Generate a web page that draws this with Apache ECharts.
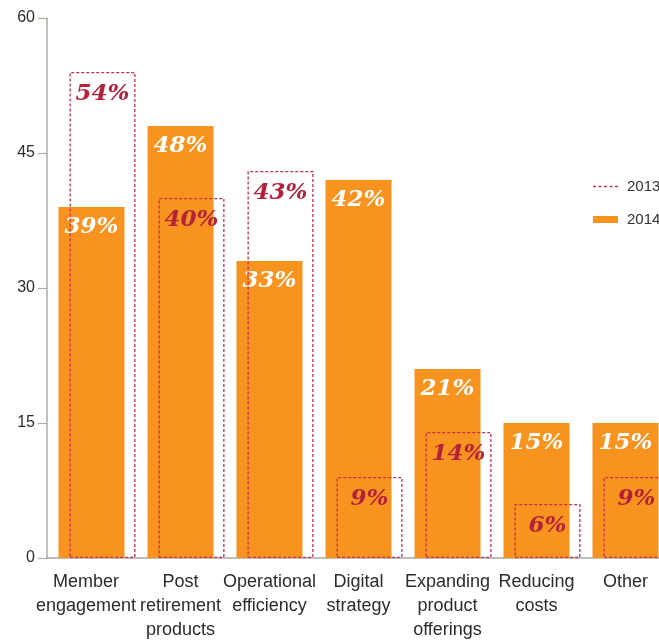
<!DOCTYPE html>
<html>
<head>
<meta charset="utf-8">
<script src="https://cdn.jsdelivr.net/npm/echarts@6/dist/echarts.min.js"></script>
<style>
  html, body { margin: 0; padding: 0; background: #fff; }
  #chart { width: 659px; height: 640px; }
</style>
</head>
<body>
<div id="chart"></div>
<script>
// Survey priorities, 2013 vs 2014 (percent of respondents)
const categories = [
  'Member\nengagement',
  'Post\nretirement\nproducts',
  'Operational\nefficiency',
  'Digital\nstrategy',
  'Expanding\nproduct\nofferings',
  'Reducing\ncosts',
  'Other'
];
const values2013 = [54, 40, 43, 9, 14, 6, 9];
const values2014 = [39, 48, 33, 42, 21, 15, 15];
const yTicks = [0, 15, 30, 45, 60];

const ORANGE = '#f7931e';
const CRIMSON = '#c4314b';
const LABEL_RED = '#b3213a';
const AXIS_GREY = '#b2aaa4';

const labelFont = {
  fontFamily: 'DejaVu Serif',
  fontStyle: 'italic',
  fontWeight: 'bold',
  fontSize: 23
};

// The first label is wide, so nudge it left to keep it clear of its neighbour.
const axisCategories = categories.map((c, i) =>
  i === 0 ? { value: c, textStyle: { padding: [0, 11, 0, 0] } } : c
);

// Two grids with identical scales; the second is nudged right so the
// 2013 outlines sit slightly offset over the 2014 bars. The plot runs
// past the right edge of the canvas, so outer-bounds fitting is off.
const gridBase = {
  top: 18,
  bottom: 82,
  width: 623,
  containLabel: false,
  outerBoundsMode: 'none'
};

const chart = echarts.init(document.getElementById('chart'), null, { renderer: 'canvas' });
chart.setOption({
  animation: false,
  backgroundColor: '#fff',
  textStyle: { fontFamily: 'Liberation Sans' },
  legend: {
    orient: 'vertical',
    left: 588,
    top: 174,
    itemWidth: 25,
    itemHeight: 7,
    itemGap: 18,
    textStyle: {
      color: '#333',
      fontSize: 15,
      fontFamily: 'Liberation Sans',
      padding: [0, 0, 0, 4]
    },
    data: [
      {
        name: '2013',
        icon: 'path://M0,0h3v1.4h-3zM5.5,0h3v1.4h-3zM11,0h3v1.4h-3zM16.5,0h3v1.4h-3zM22,0h3v1.4h-3z',
        itemStyle: { color: CRIMSON, borderWidth: 0 }
      },
      { name: '2014', icon: 'rect' }
    ]
  },
  grid: [
    Object.assign({ left: 47 }, gridBase),
    Object.assign({ left: 58 }, gridBase)
  ],
  xAxis: [
    {
      type: 'category',
      gridIndex: 0,
      data: axisCategories,
      axisLine: { lineStyle: { color: '#a8a8a8', width: 1.5 } },
      axisTick: { length: 8, lineStyle: { color: AXIS_GREY, width: 1.2 } },
      axisLabel: {
        interval: 0,
        margin: 12,
        color: '#2b2b2b',
        fontSize: 18,
        lineHeight: 24,
        fontFamily: 'Liberation Sans'
      }
    },
    {
      type: 'category',
      gridIndex: 1,
      data: categories,
      show: false
    }
  ],
  yAxis: [
    {
      type: 'value',
      gridIndex: 0,
      min: yTicks[0],
      max: yTicks[yTicks.length - 1],
      interval: yTicks[1] - yTicks[0],
      splitLine: { show: false },
      axisLine: { show: true, lineStyle: { color: AXIS_GREY, width: 1.5 } },
      axisTick: { show: true, length: 9, lineStyle: { color: AXIS_GREY, width: 1.2 } },
      axisLabel: {
        margin: 12,
        color: '#2b2b2b',
        fontSize: 16,
        fontFamily: 'Liberation Sans',
        padding: [0, 0, 4, 0]
      }
    },
    {
      type: 'value',
      gridIndex: 1,
      min: yTicks[0],
      max: yTicks[yTicks.length - 1],
      interval: yTicks[1] - yTicks[0],
      show: false,
      splitLine: { show: false }
    }
  ],
  series: [
    {
      name: '2014',
      type: 'bar',
      xAxisIndex: 0,
      yAxisIndex: 0,
      data: values2014,
      barWidth: 66,
      z: 2,
      itemStyle: { color: ORANGE },
      label: Object.assign({
        show: true,
        position: 'insideTop',
        distance: 9,
        color: '#fff',
        formatter: '{c}%'
      }, labelFont)
    },
    {
      name: '2013',
      type: 'bar',
      xAxisIndex: 1,
      yAxisIndex: 1,
      data: values2013,
      barWidth: 66,
      z: 3,
      itemStyle: {
        color: 'rgba(0,0,0,0)',
        borderColor: CRIMSON,
        borderWidth: 1.3,
        borderType: [3, 2]
      },
      label: Object.assign({
        show: true,
        position: 'insideTop',
        distance: 11,
        color: LABEL_RED,
        formatter: '{c}%'
      }, labelFont)
    }
  ]
});
</script>
</body>
</html>
